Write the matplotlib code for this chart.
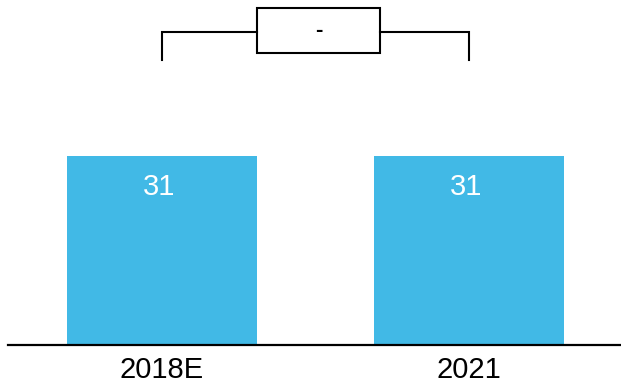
import matplotlib.pyplot as plt
from matplotlib.patches import Rectangle

# Values shown on the chart
years = ['2018E', '2021']
values = [31, 31]
change_label = '-'

plt.rcParams['font.family'] = ['Liberation Sans', 'DejaVu Sans']

fig = plt.figure(figsize=(6.21, 3.83), dpi=100)
ax = fig.add_axes([8 / 621, 38 / 383, 613 / 621, 345 / 383])

x = list(range(len(years)))
bar_width = 0.62
ax.bar(x, values, width=bar_width, color='#41B9E6', zorder=2)

for xi, v in zip(x, values):
    ax.text(xi - 0.01, v - 6.4, f'{v}', ha='center', va='baseline',
            color='white', fontsize=21)

ax.set_xlim(-0.502, 1.495)
ax.set_ylim(0, 56.6)

# Bracket joining the two bars with the change box in the middle
top = max(values)
y_low = top + 15.7
y_line = top + 20.3
ax.plot([x[0], x[0], 0.31], [y_low, y_line, y_line], color='black', lw=1.5,
        solid_joinstyle='miter', clip_on=False)
ax.plot([0.71, x[1], x[1]], [y_line, y_line, y_low], color='black', lw=1.5,
        solid_joinstyle='miter', clip_on=False)
mid = (x[0] + x[1]) / 2
box_w, box_h = 0.40, 7.3
ax.add_patch(Rectangle((mid + 0.01 - box_w / 2, y_line + 0.3 - box_h / 2), box_w, box_h,
                       facecolor='white', edgecolor='black', lw=1.5, clip_on=False))
ax.text(mid + 0.01, y_line + 0.3, change_label, ha='center', va='center',
        fontsize=16, fontweight='bold')

ax.set_xticks(x)
ax.set_xticklabels(years, fontsize=21)
ax.tick_params(axis='x', length=0, pad=8)
ax.set_yticks([])
for side in ['top', 'right', 'left']:
    ax.spines[side].set_visible(False)
ax.spines['bottom'].set_linewidth(1.6)

fig.savefig('out.png', dpi=100)
